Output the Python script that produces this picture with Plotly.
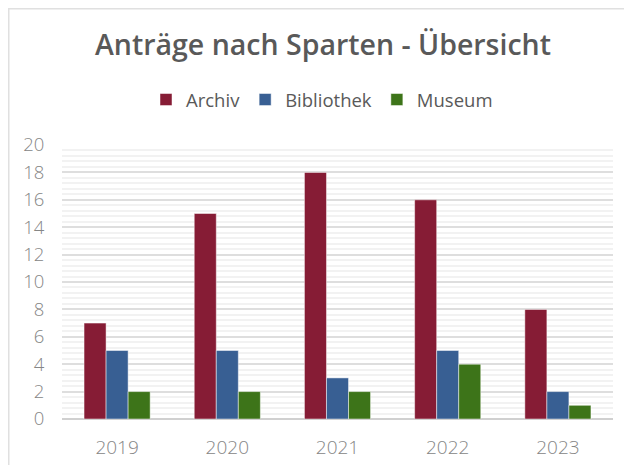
import plotly.graph_objects as go

years = ["2019", "2020", "2021", "2022", "2023"]
archiv = [7, 15, 18, 16, 8]
bibliothek = [5, 5, 3, 5, 2]
museum = [2, 2, 2, 4, 1]
y_ticks = [0, 2, 4, 6, 8, 10, 12, 14, 16, 18, 20]

colors = {"Archiv": "#861C35", "Bibliothek": "#385F93", "Museum": "#3D7419"}

# plot area in figure px
L, R, T, B = 54, 605, 137, 411
W, H = R - L, B - T

fig = go.Figure()
for name, vals in [("Archiv", archiv), ("Bibliothek", bibliothek), ("Museum", museum)]:
    fig.add_trace(go.Bar(
        name=name, x=years, y=vals,
        marker=dict(color=colors[name], line=dict(color="rgba(255,255,255,0.6)", width=0.8)),
    ))

fig.update_layout(
    width=632, height=465,
    margin=dict(l=L, r=632 - R, t=T, b=465 - B),
    paper_bgcolor="white", plot_bgcolor="white",
    barmode="group", bargap=0.4, bargroupgap=0,
    font=dict(family="Open Sans", color="#595959"),
    title=dict(
        text="Anträge nach Sparten - Übersicht",
        x=(323 - 8) / 632, xanchor="center", y=1 - 37 / 465, yanchor="middle", yref="container",
        font=dict(size=28.5, color="#595959", family="Open Sans", weight=600),
    ),
    legend=dict(
        orientation="h", x=(322 - 8 - L) / W, xanchor="center", y=(B - 92) / H, yanchor="middle",
        font=dict(size=18.5, color="#595959"),
        traceorder="normal", itemwidth=30,
    ),
    xaxis=dict(
        showgrid=False, showline=False,
        ticks="outside", ticklen=11, tickcolor="rgba(0,0,0,0)",
        tickfont=dict(size=19, color="#868686", weight=300),
    ),
    yaxis=dict(
        range=[0, 20], tickvals=y_ticks,
        showgrid=True, gridcolor="#dedede", gridwidth=1.5,
        zeroline=True, zerolinecolor="#d0d0d0", zerolinewidth=1.5,
        ticks="outside", ticklen=13, tickcolor="rgba(0,0,0,0)",
        tickfont=dict(size=18.5, color="#868686", weight=300),
        minor=dict(dtick=0.4, tick0=0, showgrid=True, gridcolor="#f2f2f2", gridwidth=1.5),
    ),
    shapes=[dict(
        type="rect", xref="paper", yref="paper",
        x0=(0.75 - L) / W, x1=(660 - L) / W,
        y0=(B - 480) / H, y1=(B - 0.75) / H,
        line=dict(color="#e0e0e0", width=1.5), fillcolor="rgba(0,0,0,0)", layer="below",
    )],
)

fig.write_html("out.html")
